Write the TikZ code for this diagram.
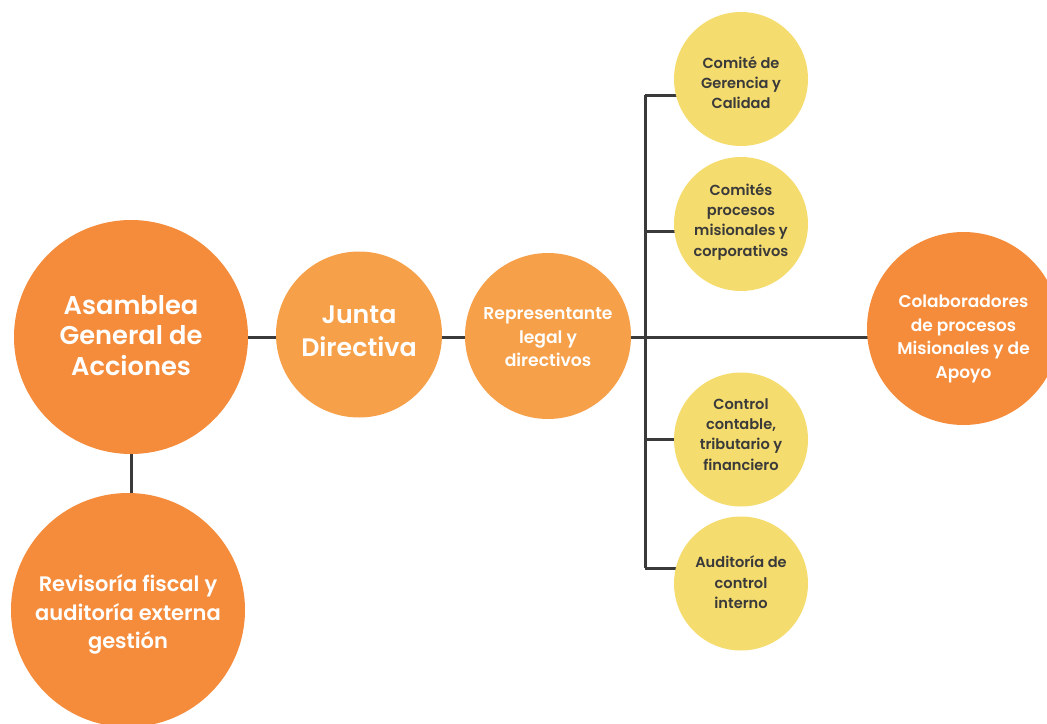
\documentclass[tikz,border=0pt]{standalone}
\usepackage{fontspec}
\setmainfont{Poppins}[BoldFont={* SemiBold}]
\usepackage{tikz}
\usetikzlibrary{positioning, calc, backgrounds}
\definecolor{naranja}{HTML}{F58C3C}
\definecolor{naranjaclaro}{HTML}{F6A04A}
\definecolor{amarillo}{HTML}{F5DC6E}
\definecolor{linea}{HTML}{3A3A3A}
% texto centrado en el circulo, bajado #1 pt
\newcommand{\etiq}[2]{\raisebox{\dimexpr-0.35em-(#1pt)\relax}[0pt][0pt]{\begin{tabular}{@{}c@{}}#2\end{tabular}}}
\tikzset{
  circ/.style={circle, inner sep=0pt, align=center, font=\bfseries},
  grande/.style={circ, fill=naranja, text=white, minimum size=234pt},
  media/.style={circ, fill=naranjaclaro, text=white, minimum size=166pt},
  comite/.style={circ, fill=amarillo, text=linea, minimum size=134pt, font=\bfseries\fontsize{14.6}{20.3}\selectfont},
  enlace/.style={draw=linea, line width=3pt}
}

\begin{document}
\begin{tikzpicture}[x=1pt, y=-1pt]
      \useasboundingbox (0,0) rectangle (1047,723);

      \node[grande, font=\bfseries\fontsize{25.7}{30.5}\selectfont] (ASAM) at (131,337) {\etiq{-1}{Asamblea\\General de\\Acciones}};
      \node[grande, font=\bfseries\fontsize{21}{28.5}\selectfont] (REV) at (128,610) {\etiq{2.5}{Revisoría fiscal y\\auditoría externa\\gestión}};

      \node[media, font=\bfseries\fontsize{25.3}{33.5}\selectfont] (JUNTA) at (359,334.5) {\etiq{-4}{Junta\\Directiva}};
      \node[media, font=\bfseries\fontsize{17.2}{23.5}\selectfont] (REP) at (548,336) {\etiq{1}{Representante\\legal y\\directivos}};

      \node[comite] (COM1) at (741,79) {\etiq{4}{Comité de\\Gerencia y\\Calidad}};
      \node[comite] (COM2) at (741,224) {\etiq{-4}{Comités\\procesos\\misionales y\\corporativos}};
      \node[comite] (COM3) at (741,439.5) {\etiq{-5.5}{Control\\contable,\\tributario y\\financiero}};
      \node[comite] (COM4) at (741,583.5) {\etiq{-1}{Auditoría de\\control\\interno}};

      \node[grande, minimum size=193pt, font=\bfseries\fontsize{17}{23.7}\selectfont] (COLAB) at (963.5,328.5) {\etiq{8}{Colaboradores\\de procesos\\Misionales y de\\Apoyo}};

      \coordinate (T1) at (645,95);
      \coordinate (T2) at (645,231);
      \coordinate (T0) at (645,337);
      \coordinate (T3) at (645,439);
      \coordinate (T4) at (645,568);

      \begin{pgfonlayer}{background}
      \draw[enlace] (ASAM.center |- T0) -- (JUNTA.center |- T0);
      \draw[enlace] (JUNTA.center |- T0) -- (REP.center |- T0);
      \draw[enlace] (REP.center |- T0) -- (COLAB.center |- T0);
      \draw[enlace] (ASAM) -- (ASAM.center |- REV.center);
      \draw[enlace] (T1) -- (T4);
      \draw[enlace] (T1) -- (T1 -| COM1.center);
      \draw[enlace] (T2) -- (T2 -| COM2.center);
      \draw[enlace] (T3) -- (T3 -| COM3.center);
      \draw[enlace] (T4) -- (T4 -| COM4.center);
      \end{pgfonlayer}
    \end{tikzpicture}
\end{document}
